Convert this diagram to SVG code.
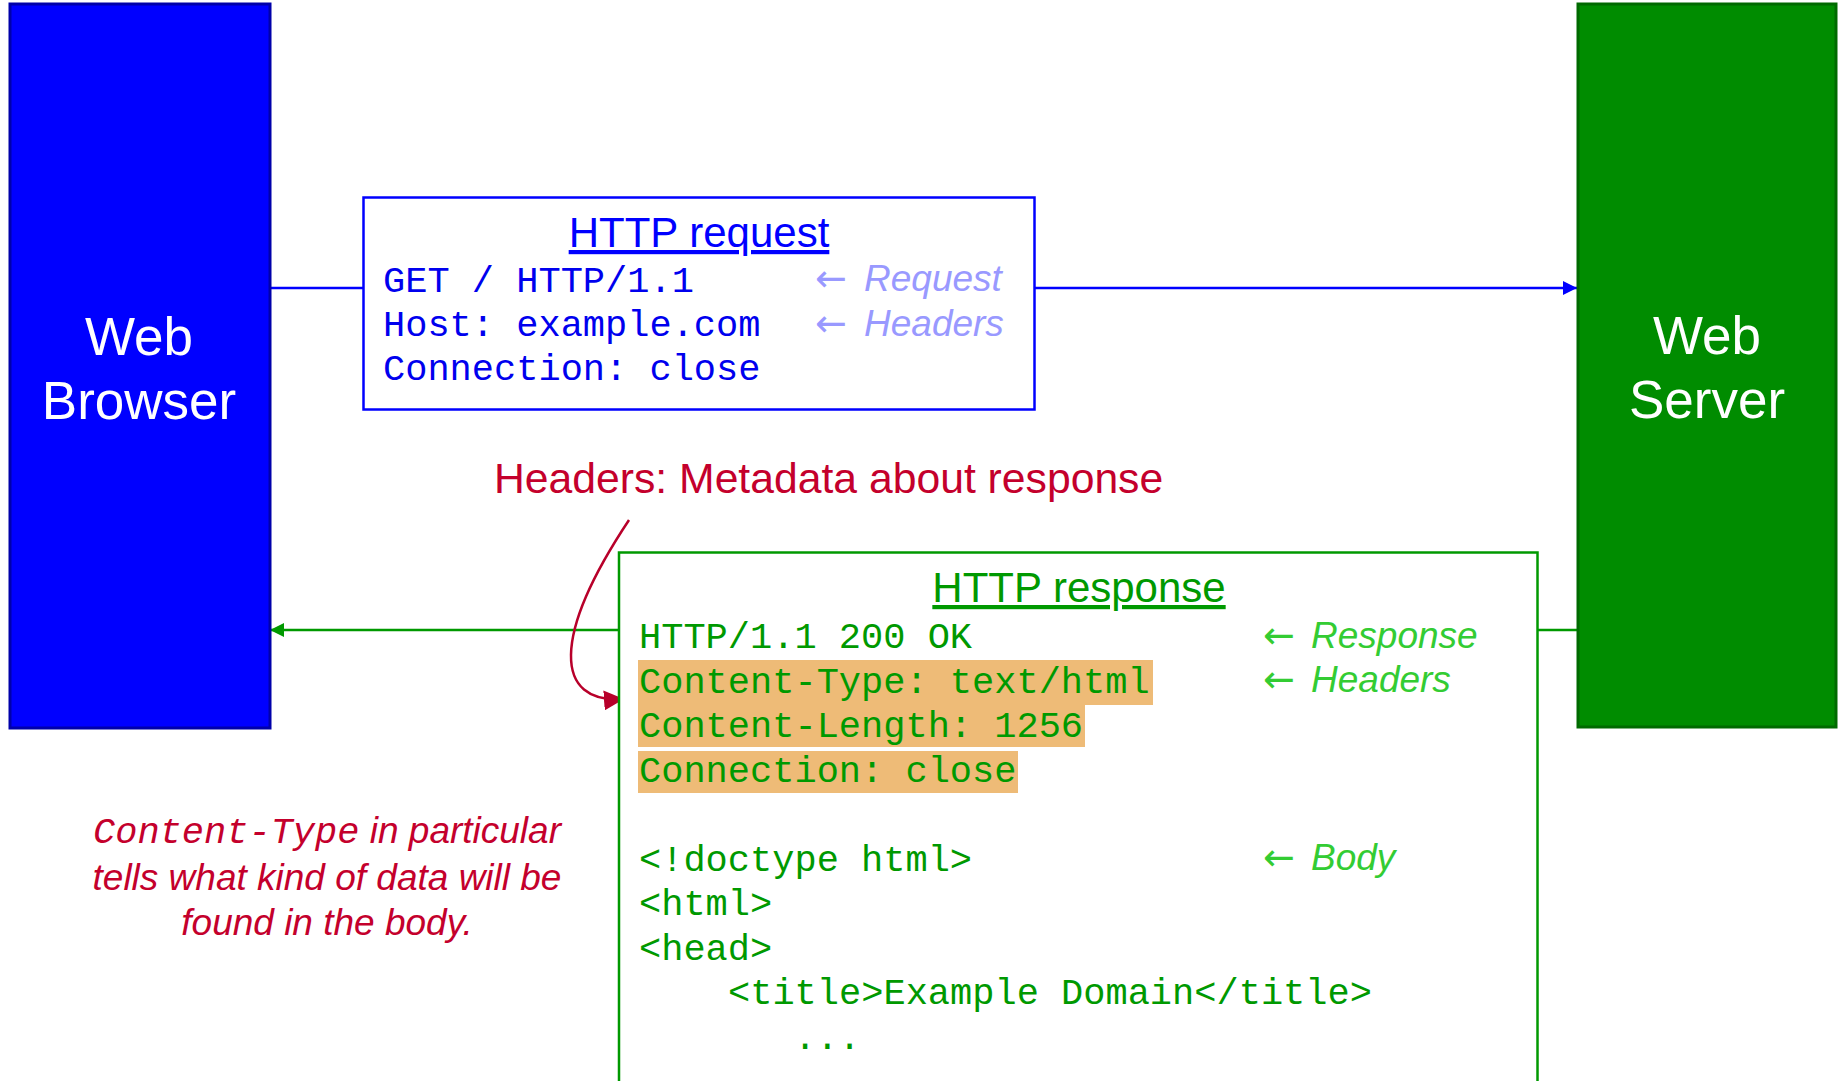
<svg xmlns="http://www.w3.org/2000/svg" width="1839" height="1081" viewBox="0 0 1839 1081">
<style>
.big{font-family:"Liberation Sans",Arial,sans-serif;font-size:53px;fill:#ffffff;text-anchor:middle}
.title{font-family:"Liberation Sans",Arial,sans-serif;font-size:42px;text-anchor:middle;text-decoration:underline}
.mono{font-family:"Liberation Mono","Courier New",monospace;font-size:37px;white-space:pre}
.lbl{font-family:"Liberation Sans",Arial,sans-serif;font-size:37px;font-style:italic}
.arr{font-family:"DejaVu Sans",sans-serif;font-style:normal;font-size:38px}
.red{fill:#C4002C}
</style>
<defs>
<marker id="ab" markerUnits="userSpaceOnUse" markerWidth="16" markerHeight="14" refX="14" refY="7" orient="auto"><path d="M0,0 L14,7 L0,14 Z" fill="#0000FF"/></marker>
<marker id="ag" markerUnits="userSpaceOnUse" markerWidth="16" markerHeight="14" refX="14" refY="7" orient="auto"><path d="M0,0 L14,7 L0,14 Z" fill="#009900"/></marker>
<marker id="ar" markerUnits="userSpaceOnUse" markerWidth="22" markerHeight="20" refX="20" refY="10" orient="auto"><path d="M0,0 L20,10 L0,20 Z" fill="#B8002A"/></marker>
</defs>
<rect width="1839" height="1081" fill="#ffffff"/>
<g id="connectors">
<line x1="270" y1="288" x2="364" y2="288" stroke="#0000FF" stroke-width="2.5"/>
<line x1="1034" y1="288" x2="1577" y2="288" stroke="#0000FF" stroke-width="2.5" marker-end="url(#ab)"/>
<line x1="1577" y1="630" x2="1537" y2="630" stroke="#009900" stroke-width="2.5"/>
<line x1="619" y1="630" x2="270" y2="630" stroke="#009900" stroke-width="2.5" marker-end="url(#ag)"/>
<path d="M629,520 C552,636 553,704 624,699" fill="none" stroke="#B8002A" stroke-width="2.5" marker-end="url(#ar)"/>
</g>
<g id="browser">
<rect x="10" y="4" width="260" height="724" fill="#0000FF" stroke="#0000AA" stroke-width="3"/>
<text class="big" x="139" y="355">Web</text>
<text class="big" x="139" y="419">Browser</text>
</g>
<g id="server">
<rect x="1578" y="4" width="258" height="723" fill="#008C00" stroke="#006A00" stroke-width="3"/>
<text class="big" x="1707" y="354">Web</text>
<text class="big" x="1707" y="418">Server</text>
</g>
<g id="request">
<rect x="363.5" y="197.5" width="671" height="212" fill="#ffffff" stroke="#0000FF" stroke-width="2.5"/>
<text class="title" x="699" y="247" fill="#0000FF">HTTP request</text>
<text class="mono" x="383" y="292" fill="#0000EE">GET / HTTP/1.1</text>
<text class="mono" x="383" y="336" fill="#0000EE">Host: example.com</text>
<text class="mono" x="383" y="380" fill="#0000EE">Connection: close</text>
<text class="lbl" x="815" y="291" fill="#9999FF"><tspan class="arr">←</tspan><tspan x="864">Request</tspan></text>
<text class="lbl" x="815" y="336" fill="#9999FF"><tspan class="arr">←</tspan><tspan x="864">Headers</tspan></text>
</g>
<g id="note-headers">
<text x="494" y="493" font-family="Liberation Sans, Arial, sans-serif" font-size="42.7" class="red">Headers: Metadata about response</text>
</g>
<g id="response">
<rect x="619" y="552.5" width="918.5" height="540" fill="#ffffff" stroke="#009900" stroke-width="2.5"/>
<rect x="638" y="660" width="515" height="45" fill="#EEBB77"/>
<rect x="638" y="705" width="447" height="42" fill="#EEBB77"/>
<rect x="638" y="751" width="380" height="42" fill="#EEBB77"/>
<text class="title" x="1079" y="602" fill="#009900">HTTP response</text>
<g fill="#009900">
<text class="mono" x="639" y="648">HTTP/1.1 200 OK</text>
<text class="mono" x="639" y="693">Content-Type: text/html</text>
<text class="mono" x="639" y="737">Content-Length: 1256</text>
<text class="mono" x="639" y="782">Connection: close</text>
<text class="mono" x="639" y="871">&lt;!doctype html&gt;</text>
<text class="mono" x="639" y="915">&lt;html&gt;</text>
<text class="mono" x="639" y="960">&lt;head&gt;</text>
<text class="mono" x="728" y="1004">&lt;title&gt;Example Domain&lt;/title&gt;</text>
<text class="mono" x="794" y="1049">...</text>
</g>
<g fill="#33CC33">
<text class="lbl" x="1263" y="648"><tspan class="arr">←</tspan><tspan x="1311">Response</tspan></text>
<text class="lbl" x="1263" y="692"><tspan class="arr">←</tspan><tspan x="1311">Headers</tspan></text>
<text class="lbl" x="1263" y="870"><tspan class="arr">←</tspan><tspan x="1311">Body</tspan></text>
</g>
</g>
<g id="note-content-type" class="red">
<text x="327" y="843" text-anchor="middle"><tspan font-family="Liberation Mono, Courier New, monospace" font-size="37" font-style="italic">Content-Type</tspan><tspan class="lbl"> in particular</tspan></text>
<text class="lbl" x="327" y="890" text-anchor="middle">tells what kind of data will be</text>
<text class="lbl" x="327" y="935" text-anchor="middle">found in the body.</text>
</g>
</svg>
